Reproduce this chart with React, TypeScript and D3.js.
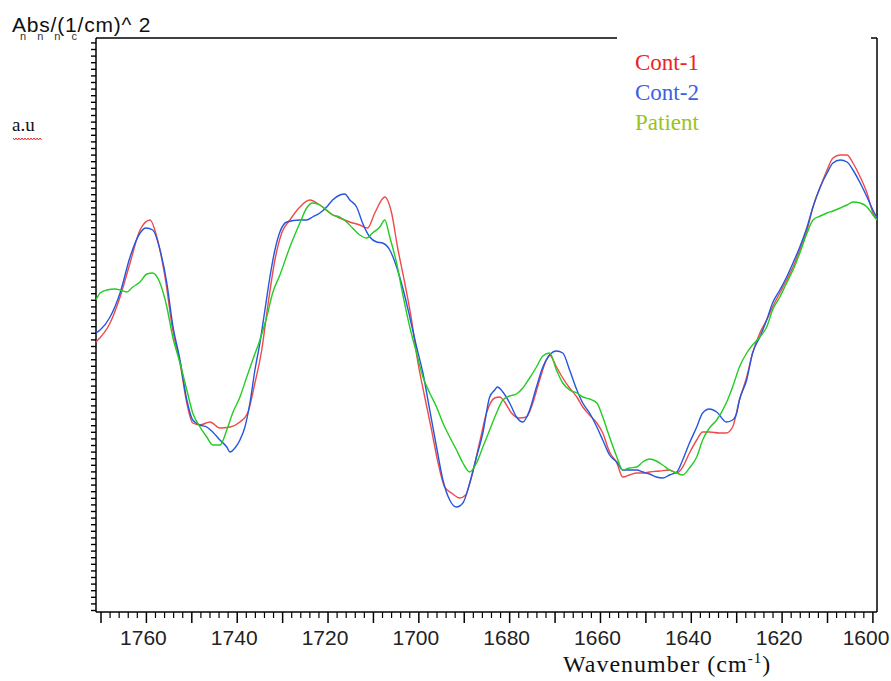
import React, { useRef, useEffect } from "react";
import * as d3 from "d3";

// wavenumber (cm-1), absorbance 2nd derivative (a.u., arbitrary offset)
const cont1: [number, number][] = [
  [1771.1, 270], [1768.0, 289], [1765.8, 315], [1763.6, 349], [1761.4, 382], [1759.2, 392],
  [1757.7, 375], [1755.9, 335], [1754.2, 282], [1752.6, 249], [1751.1, 209], [1749.8, 189],
  [1748.2, 187], [1746.0, 190], [1743.8, 184], [1741.6, 185], [1739.4, 190], [1737.7, 199],
  [1736.1, 229], [1734.6, 262], [1733.3, 305], [1731.7, 352], [1730.2, 379], [1728.4, 392],
  [1726.2, 405], [1724.0, 412], [1721.8, 407], [1719.6, 399], [1717.4, 394], [1715.2, 390],
  [1713.0, 387], [1711.3, 384], [1709.7, 399], [1707.5, 415], [1706.0, 399], [1704.7, 365],
  [1703.1, 329], [1701.6, 292], [1700.3, 252], [1698.7, 215], [1697.2, 182], [1695.9, 152],
  [1694.3, 125], [1692.8, 119], [1691.0, 114], [1689.7, 117], [1688.4, 135], [1686.6, 170],
  [1685.1, 199], [1683.3, 214], [1682.2, 215], [1681.1, 210], [1679.6, 199], [1677.8, 194],
  [1676.3, 195], [1674.9, 209], [1673.4, 232], [1671.9, 252], [1671.2, 257], [1669.7, 245],
  [1668.3, 234], [1666.8, 224], [1665.2, 215], [1663.9, 205], [1662.4, 197], [1660.8, 189],
  [1659.5, 179], [1658.0, 160], [1656.4, 149], [1655.1, 135], [1653.6, 137], [1652.0, 139],
  [1650.7, 139], [1649.2, 140], [1647.0, 141], [1644.8, 142], [1643.2, 139], [1641.9, 145],
  [1640.4, 159], [1638.8, 172], [1637.5, 180], [1636.0, 180], [1633.8, 179], [1632.3, 179],
  [1630.9, 185], [1629.4, 212], [1627.8, 235], [1626.5, 259], [1624.9, 279], [1623.4, 292],
  [1622.1, 305], [1620.5, 319], [1619.0, 332], [1617.6, 345], [1616.1, 362], [1614.5, 382],
  [1613.2, 405], [1611.6, 425], [1610.1, 442], [1608.8, 454], [1607.2, 457], [1605.7, 457],
  [1604.4, 449], [1602.8, 435], [1601.3, 419], [1600.0, 399], [1599.1, 392],
];

const cont2: [number, number][] = [
  [1771.1, 279], [1770.2, 282], [1768.0, 295], [1765.8, 319], [1763.6, 355], [1761.4, 379],
  [1760.1, 384], [1758.6, 382], [1757.0, 362], [1755.5, 329], [1754.2, 287], [1752.6, 252],
  [1751.1, 212], [1749.8, 192], [1748.2, 187], [1746.7, 185], [1745.4, 180], [1743.8, 172],
  [1742.3, 165], [1741.6, 160], [1740.5, 164], [1739.4, 172], [1738.3, 185], [1737.2, 209],
  [1736.1, 242], [1735.0, 269], [1733.9, 302], [1732.8, 335], [1731.7, 362], [1730.6, 380],
  [1729.1, 390], [1726.2, 392], [1724.7, 392], [1723.4, 395], [1721.8, 399], [1720.3, 405],
  [1719.0, 412], [1717.4, 417], [1716.3, 418], [1715.2, 412], [1713.7, 405], [1712.4, 389],
  [1710.8, 375], [1709.3, 370], [1708.0, 369], [1706.4, 362], [1704.9, 345], [1703.6, 325],
  [1702.0, 295], [1700.5, 265], [1699.1, 239], [1697.6, 202], [1696.1, 165], [1694.7, 132],
  [1693.2, 112], [1691.7, 105], [1690.3, 109], [1688.8, 129], [1687.3, 155], [1685.9, 179],
  [1684.4, 215], [1683.3, 222], [1682.7, 225], [1681.5, 220], [1680.0, 209], [1678.5, 195],
  [1677.1, 190], [1675.6, 202], [1674.1, 225], [1672.7, 245], [1671.2, 257], [1669.7, 261],
  [1668.3, 259], [1666.8, 242], [1665.2, 222], [1663.9, 209], [1662.4, 199], [1660.8, 185],
  [1659.5, 172], [1658.0, 157], [1656.4, 150], [1655.1, 142], [1653.6, 142], [1652.0, 142],
  [1650.7, 140], [1649.2, 138], [1647.7, 135], [1646.3, 134], [1644.8, 137], [1643.2, 140],
  [1641.9, 152], [1640.4, 169], [1638.8, 185], [1637.5, 199], [1636.0, 203], [1634.4, 200],
  [1632.3, 190], [1630.9, 192], [1630.0, 199], [1629.4, 212], [1627.8, 232], [1626.5, 259],
  [1624.9, 275], [1623.4, 292], [1622.1, 309], [1620.5, 322], [1619.0, 335], [1617.6, 349],
  [1616.1, 365], [1614.5, 385], [1613.2, 405], [1611.6, 425], [1610.1, 439], [1608.8, 449],
  [1607.2, 452], [1605.7, 450], [1604.4, 442], [1602.8, 429], [1601.3, 415], [1600.0, 402],
  [1599.1, 394],
];

const patient: [number, number][] = [
  [1771.1, 312], [1770.2, 319], [1768.7, 322], [1766.9, 323], [1765.8, 322], [1764.3, 320],
  [1763.0, 325], [1761.4, 330], [1759.9, 338], [1758.6, 339], [1757.0, 329], [1755.5, 305],
  [1754.2, 275], [1752.6, 249], [1751.1, 222], [1749.8, 199], [1748.2, 185], [1746.7, 175],
  [1745.4, 167], [1743.8, 167], [1742.3, 182], [1741.0, 199], [1739.4, 215], [1737.9, 235],
  [1736.6, 252], [1735.0, 272], [1733.5, 295], [1732.2, 319], [1730.6, 337], [1728.4, 365],
  [1726.2, 389], [1724.7, 404], [1723.4, 409], [1721.8, 407], [1720.3, 402], [1719.0, 397],
  [1717.4, 395], [1715.9, 390], [1714.6, 384], [1713.0, 377], [1711.5, 374], [1710.2, 379],
  [1708.6, 385], [1707.5, 392], [1706.4, 375], [1704.9, 349], [1703.6, 319], [1702.0, 285],
  [1700.5, 259], [1699.1, 235], [1697.6, 219], [1696.1, 205], [1694.7, 189], [1693.2, 175],
  [1691.7, 162], [1690.3, 149], [1688.8, 140], [1687.3, 149], [1685.9, 165], [1684.4, 182],
  [1682.9, 199], [1681.5, 212], [1680.0, 216], [1678.5, 218], [1677.1, 224], [1675.6, 234],
  [1674.1, 245], [1672.7, 256], [1671.2, 259], [1669.7, 242], [1668.3, 229], [1666.8, 222],
  [1665.2, 219], [1663.9, 215], [1662.4, 213], [1660.8, 209], [1659.5, 195], [1658.0, 175],
  [1656.4, 155], [1655.1, 142], [1653.6, 144], [1652.0, 145], [1650.7, 150], [1649.2, 153],
  [1647.7, 151], [1646.3, 147], [1644.8, 142], [1643.2, 139], [1641.9, 137], [1640.4, 144],
  [1638.8, 155], [1637.5, 172], [1636.0, 184], [1634.4, 192], [1632.3, 209], [1630.9, 225],
  [1629.4, 245], [1627.8, 259], [1626.5, 267], [1624.9, 275], [1623.4, 285], [1622.1, 302],
  [1620.5, 315], [1619.0, 329], [1617.6, 342], [1616.1, 359], [1614.5, 379], [1613.2, 392],
  [1611.6, 396], [1610.1, 399], [1608.8, 401], [1607.2, 404], [1605.7, 407], [1604.4, 410],
  [1602.8, 409], [1601.3, 405], [1600.0, 397], [1599.1, 392],
];

const seriesNames = ["Cont-1", "Cont-2", "Patient"];
const lineColors = ["#ef4a4a", "#2456e0", "#22cc22"];
const legendColors = ["#ee2222", "#3a5fe6", "#99c418"];
const xTickLabels = [1760, 1740, 1720, 1700, 1680, 1660, 1640, 1620, 1600];

function App() {
  const svgRef = useRef<SVGSVGElement>(null);
  const width = 891;
  const height = 681;

  useEffect(() => {
    const svg = d3.select(svgRef.current);
    svg.selectAll("*").remove();

    const left = 96;
    const right = 877;
    const top = 38;
    const bottom = 612;

    const x = d3.scaleLinear().domain([1771.1, 1599.1]).range([left, right]);
    const y = d3.scaleLinear().domain([0, 574]).range([bottom, top]);

    // frame: top line with a gap where the legend sits
    svg.append("line").attr("x1", left).attr("x2", 617).attr("y1", top).attr("y2", top)
      .attr("stroke", "#000").attr("stroke-width", 1.5);
    svg.append("line").attr("x1", 871).attr("x2", right).attr("y1", top).attr("y2", top)
      .attr("stroke", "#000").attr("stroke-width", 1.5);
    svg.append("line").attr("x1", right).attr("x2", right).attr("y1", top).attr("y2", bottom)
      .attr("stroke", "#000").attr("stroke-width", 1.5);

    // left axis, minor ticks only
    const yAxis = d3.axisLeft(y).tickValues(d3.range(2, 574, 6.6)).tickSize(5).tickFormat(() => "");
    const gy = svg.append("g").attr("transform", `translate(${left},0)`).call(yAxis);
    gy.select(".domain").attr("stroke-width", 1.5).attr("d", `M0,${top}V${bottom}`);
    gy.selectAll(".tick line").attr("stroke-width", 1.4);

    // bottom axis
    const minor = d3.range(1770, 1599, -2).filter((v) => v % 10 !== 0);
    const major = d3.range(1770, 1599, -10);
    const gx = svg.append("g").attr("transform", `translate(0,${bottom})`);
    gx.append("line").attr("x1", left).attr("x2", right).attr("stroke", "#000").attr("stroke-width", 1.5);
    gx.selectAll("line.minor").data(minor).enter().append("line").attr("class", "minor")
      .attr("x1", (d) => x(d)).attr("x2", (d) => x(d)).attr("y1", 0).attr("y2", 6)
      .attr("stroke", "#000").attr("stroke-width", 1.2);
    gx.selectAll("line.major").data(major).enter().append("line").attr("class", "major")
      .attr("x1", (d) => x(d)).attr("x2", (d) => x(d)).attr("y1", 0).attr("y2", 11)
      .attr("stroke", "#000").attr("stroke-width", 1.5);
    gx.selectAll("text").data(xTickLabels).enter().append("text")
      .attr("x", (d) => Math.min(x(d) - 3, width - 25)).attr("y", 33).attr("text-anchor", "middle")
      .style("font-family", "Liberation Sans, Arial, sans-serif").style("font-size", "21px")
      .attr("fill", "#222").text((d) => d);

    // spectra
    const line = d3.line<[number, number]>()
      .curve(d3.curveMonotoneX)
      .x((d) => x(d[0]))
      .y((d) => y(d[1]));
    [cont1, cont2, patient].forEach((s, i) => {
      svg.append("path").datum(s).attr("fill", "none")
        .attr("stroke", lineColors[i]).attr("stroke-width", 1.4).attr("d", line);
    });

    // legend
    seriesNames.forEach((name, i) => {
      svg.append("text").attr("x", 635).attr("y", 70 + i * 30)
        .style("font-family", "Liberation Serif, Times New Roman, serif").style("font-size", "23px")
        .attr("fill", legendColors[i]).text(name);
    });

    // y label
    svg.append("text").attr("x", 12).attr("y", 32)
      .style("font-family", "Liberation Sans, Arial, sans-serif").style("font-size", "21px")
      .style("letter-spacing", "0.8px").attr("fill", "#111").text("Abs/(1/cm)^ 2");
    svg.append("text").attr("x", 20).attr("y", 40)
      .style("font-family", "Liberation Sans, Arial, sans-serif").style("font-size", "11px")
      .style("letter-spacing", "4px").attr("fill", "#333").text("n n n c");
    svg.append("text").attr("x", 12).attr("y", 131)
      .style("font-family", "Liberation Serif, Times New Roman, serif").style("font-size", "19px")
      .attr("fill", "#111").text("a.u");
    const wave = d3.range(13, 42, 1.5).map((px, i) => [px, 138 + (i % 2 === 0 ? 0 : 2)] as [number, number]);
    svg.append("path").attr("d", d3.line()(wave)).attr("fill", "none")
      .attr("stroke", "#e03030").attr("stroke-width", 1);

    // x label
    const xl = svg.append("text").attr("x", 563).attr("y", 672)
      .style("font-family", "Liberation Serif, Times New Roman, serif").style("font-size", "24px")
      .style("letter-spacing", "1px").attr("fill", "#111");
    xl.append("tspan").text("Wavenumber (cm");
    xl.append("tspan").attr("dy", -9).style("font-size", "15px").text("-1");
    xl.append("tspan").attr("dy", 9).text(")");
  }, []);

  return (
    <svg
      ref={svgRef}
      width={width}
      height={height}
      style={{ position: "absolute", left: 0, top: 0, background: "#fff" }}
    ></svg>
  );
}

export default App;
